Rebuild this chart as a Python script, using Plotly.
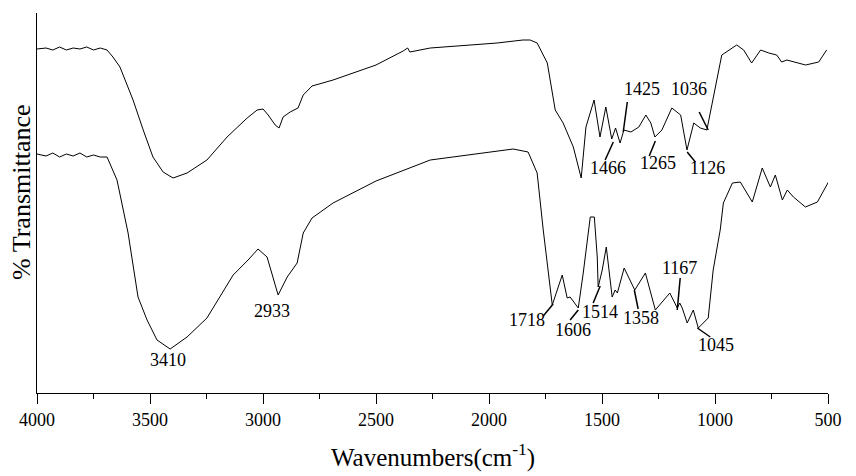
import plotly.graph_objects as go

# ---- data: curve b (upper) ----
wn_b = [4000, 3960, 3930, 3900, 3870, 3840, 3810, 3780, 3750, 3720, 3690, 3664, 3633, 3575, 3530,
        3487, 3442, 3398, 3336, 3248, 3159, 3070, 3026, 3000, 2977, 2946, 2929, 2911, 2880, 2845,
        2822, 2783, 2690, 2500, 2380, 2360, 2350, 2260, 1964, 1850, 1818, 1787, 1742, 1707, 1672,
        1627, 1592, 1571, 1535, 1509, 1483, 1457, 1440, 1420, 1403, 1372, 1337, 1306, 1284, 1266,
        1235, 1191, 1152, 1124, 1094, 1065, 1036, 1005, 970, 904, 873, 838, 798, 762, 727, 705,
        682, 599, 541, 506]
tr_b = [344, 345, 343, 346, 343, 345, 344, 346, 343, 345, 343, 336, 326, 293, 263,
        236, 221, 215, 220, 233, 256, 275, 283, 284, 278, 268, 265, 276, 281, 285,
        298, 307, 313, 328, 342, 345, 341, 345, 350, 353, 353, 350, 330, 283, 270,
        246, 215, 266, 293, 256, 286, 254, 265, 250, 263, 261, 266, 278, 270, 256,
        263, 285, 278, 243, 270, 265, 263, 300, 338, 348, 343, 330, 343, 340, 338, 331,
        333, 328, 331, 343]

# ---- data: curve a (lower) ----
wn_a = [4000, 3960, 3930, 3900, 3870, 3840, 3810, 3780, 3750, 3720, 3690, 3646, 3597, 3553, 3513,
        3469, 3411, 3336, 3248, 3132, 3066, 3022, 2982, 2933, 2893, 2849, 2822, 2783, 2690, 2500,
        2260, 1893, 1827, 1787, 1760, 1720, 1676, 1654, 1641, 1605, 1583, 1565, 1552, 1534, 1521,
        1517, 1499, 1481, 1455, 1442, 1432, 1402, 1355, 1308, 1264, 1200, 1167, 1156, 1145, 1123,
        1096, 1074, 1050, 1030, 1008, 977, 963, 923, 888, 835, 791, 755, 733, 702, 680, 653,
        600, 547, 498]
tr_a = [239, 237, 240, 236, 239, 237, 240, 236, 238, 236, 236, 213, 160, 96, 73,
        53, 44, 56, 75, 118, 133, 144, 136, 98, 116, 130, 160, 175, 190, 212,
        233, 244, 241, 220, 163, 88, 118, 95, 96, 85, 120, 153, 176, 176, 136,
        106, 123, 146, 96, 103, 100, 125, 103, 120, 83, 100, 85, 90, 85, 70,
        83, 65, 71, 75, 123, 163, 190, 210, 211, 191, 225, 206, 218, 193, 203, 196,
        186, 191, 211]

# ---- peak labels ----
lab_text = ["3410", "2933", "1466", "1425", "1036", "1265", "1126",
            "1718", "1606", "1514", "1358", "1167", "1045"]
lab_x = [3420, 2960, 1472, 1322, 1114, 1251, 1034, 1831, 1627, 1508, 1326, 1158, 994]
lab_y = [33, 82, 225, 304, 304, 230, 225, 73, 63, 81, 75, 125, 48]

# leader lines (x0, y0, x1, y1)
lead_x0 = [1450, 1388, 1070, 1264, 1123, 1760, 1641, 1539, 1357, 1154, 1078]
lead_y0 = [251, 291, 281, 252, 241, 77, 73, 90, 103, 115, 65]
lead_x1 = [1486, 1406, 1030, 1291, 1087, 1716, 1605, 1508, 1340, 1167, 1021]
lead_y1 = [233, 261, 263, 237, 231, 89, 83, 107, 84, 83, 56]

curve_names = ["b", "a"]
curve_name_x = [414, 410]
curve_name_y = [341, 213]

x_ticks = [4000, 3500, 3000, 2500, 2000, 1500, 1000, 500]

FONT = "Liberation Serif"

fig = go.Figure()
fig.add_trace(go.Scatter(x=wn_b, y=tr_b, mode="lines",
                         line=dict(color="black", width=1), showlegend=False))
fig.add_trace(go.Scatter(x=wn_a, y=tr_a, mode="lines",
                         line=dict(color="black", width=1), showlegend=False))

for x0, y0, x1, y1 in zip(lead_x0, lead_y0, lead_x1, lead_y1):
    fig.add_shape(type="line", x0=x0, y0=y0, x1=x1, y1=y1, xref="x", yref="y",
                  line=dict(color="black", width=1.5))

for t, x, y in zip(lab_text, lab_x, lab_y):
    fig.add_annotation(x=x, y=y, text=t, showarrow=False, xref="x", yref="y",
                       font=dict(family=FONT, size=18, color="black"))

for t, x, y in zip(curve_names, curve_name_x, curve_name_y):
    fig.add_annotation(x=x, y=y, text=t, showarrow=False, xref="x", yref="y",
                       font=dict(family=FONT, size=21, color="black"))

fig.add_annotation(x=0.5, y=-0.165, xref="paper", yref="paper", showarrow=False,
                   text="Wavenumbers(cm<sup>-1</sup>)", yanchor="middle", xanchor="center",
                   font=dict(family=FONT, size=25, color="black"))
fig.add_annotation(x=-0.019, y=0.529, xref="paper", yref="paper", showarrow=False,
                   text="% Transmittance", textangle=-90, xanchor="center", yanchor="middle",
                   font=dict(family=FONT, size=26, color="black"))

fig.update_layout(
    width=856, height=476,
    margin=dict(l=37, r=28, t=13, b=83),
    paper_bgcolor="white", plot_bgcolor="white",
    font=dict(family=FONT),
    xaxis=dict(range=[4000, 500], tickvals=x_ticks, ticks="outside", ticklen=10,
               tickwidth=1, tickcolor="black", showline=True, linecolor="black", linewidth=1,
               showgrid=False, zeroline=False,
               tickfont=dict(family=FONT, size=18, color="black"),
               minor=dict(dtick=250, ticks="outside", ticklen=5, tickcolor="black", tickwidth=1,
                          showgrid=False, tick0=500)),
    yaxis=dict(range=[0, 380], showline=True, linecolor="black", linewidth=1,
               showticklabels=False, ticks="", showgrid=False, zeroline=False),
)

fig.write_html("out.html")
